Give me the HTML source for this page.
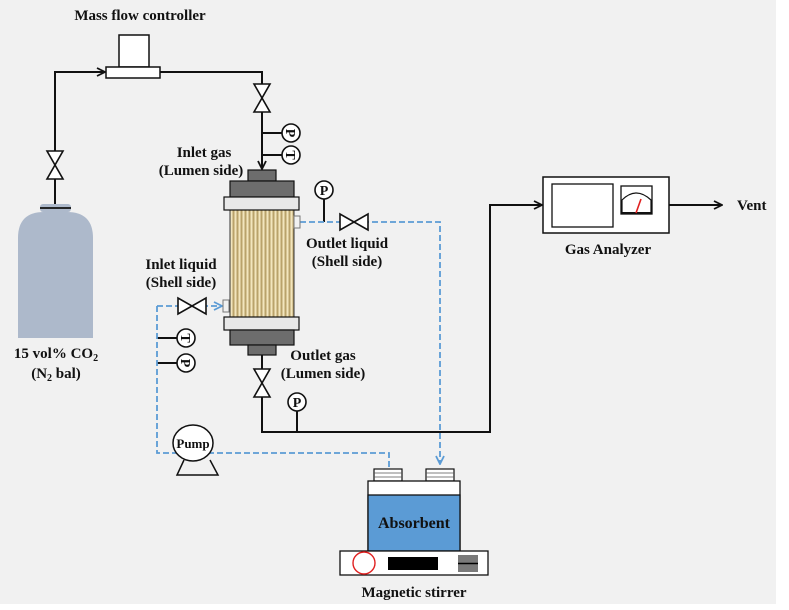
<!DOCTYPE html>
<html><head><meta charset="utf-8"><style>
html,body{margin:0;padding:0;background:#fff;}
svg{display:block;}
text{font-family:"Liberation Serif",serif;font-weight:bold;fill:#111;}
</style></head><body>
<svg width="789" height="610" viewBox="0 0 789 610" xmlns="http://www.w3.org/2000/svg">
<defs>
<pattern id="fib" x="231" y="0" width="4" height="10" patternUnits="userSpaceOnUse">
<rect width="4" height="10" fill="#f2e5bd"/>
<rect x="1.5" width="2" height="10" fill="#b9a26a"/>
</pattern>
<marker id="ar" viewBox="0 0 10 10" refX="9" refY="5" markerWidth="10" markerHeight="10" orient="auto" markerUnits="userSpaceOnUse"><path d="M1,1 L9,5 L1,9" fill="none" stroke="#111" stroke-width="1.8"/></marker>
<marker id="arb" viewBox="0 0 10 10" refX="9" refY="5" markerWidth="10" markerHeight="10" orient="auto" markerUnits="userSpaceOnUse"><path d="M1,1 L9,5 L1,9" fill="none" stroke="#5b9bd5" stroke-width="1.8"/></marker>
</defs>
<rect x="0" y="0" width="776" height="604" fill="#f1f1f1"/>

<g stroke="#111" stroke-width="2" fill="none">
<path d="M55,206 V72 H105" marker-end="url(#ar)"/>
<path d="M160,72 H262 V169" marker-end="url(#ar)"/>
<path d="M262,133 H282 M262,155 H282"/>
<path d="M262,355 V432 H490 V205 H542" marker-end="url(#ar)"/>
<path d="M297,411 V432"/>
<path d="M669,205 H722" marker-end="url(#ar)"/>
<path d="M324,199 V222"/>
<path d="M157,338 H177 M157,363 H177"/>
</g>

<g stroke="#5b9bd5" stroke-width="1.8" fill="none" stroke-dasharray="6,3">
<path d="M300,222 H440 V464" marker-end="url(#arb)"/>
<path d="M157,306 H222" marker-end="url(#arb)"/>
<path d="M157,306 V453 H389 V469"/>
</g>

<g fill="#fff" stroke="#111" stroke-width="1.6">
<path d="M47,151 H63 L47,179 H63 Z"/>
<path d="M254,84 H270 L254,112 H270 Z"/>
<path d="M254,369 H270 L254,397 H270 Z"/>
<path d="M340,214 V230 L368,214 V230 Z"/>
<path d="M178,298 V314 L206,298 V314 Z"/>
</g>

<g fill="#fff" stroke="#111" stroke-width="1.6">
<circle cx="291" cy="133" r="9"/><circle cx="291" cy="155" r="9"/>
<circle cx="324" cy="190" r="9"/>
<circle cx="186" cy="338" r="9"/><circle cx="186" cy="363" r="9"/>
<circle cx="297" cy="402" r="9"/>
</g>
<g font-size="14" text-anchor="middle">
<text transform="translate(291,133) rotate(90)" y="5">P</text>
<text transform="translate(291,155) rotate(90)" y="5">T</text>
<text x="324" y="195">P</text>
<text transform="translate(186,338) rotate(90)" y="5">T</text>
<text transform="translate(186,363) rotate(90)" y="5">P</text>
<text x="297" y="407">P</text>
</g>

<rect x="119" y="35" width="30" height="32" fill="#fff" stroke="#111" stroke-width="1.5"/>
<rect x="106" y="67" width="54" height="11" fill="#fff" stroke="#111" stroke-width="1.5"/>

<rect x="40" y="204" width="31" height="8" rx="3" fill="#adb9cb"/>
<path d="M18,338 V238 Q18,212 44,212 H67 Q93,212 93,238 V338 Z" fill="#adb9cb"/>
<path d="M40,208 H71" stroke="#111" stroke-width="1.8"/>

<rect x="248" y="170" width="28" height="11" fill="#6d6d6d" stroke="#111" stroke-width="1.2"/>
<rect x="230" y="181" width="64" height="16" fill="#6d6d6d" stroke="#111" stroke-width="1.2"/>
<rect x="230" y="210" width="64" height="107" fill="url(#fib)" stroke="#333" stroke-width="1"/>
<rect x="224" y="197" width="75" height="13" fill="#e8e8e8" stroke="#111" stroke-width="1.2"/>
<rect x="224" y="317" width="75" height="13" fill="#e8e8e8" stroke="#111" stroke-width="1.2"/>
<rect x="230" y="330" width="64" height="15" fill="#6d6d6d" stroke="#111" stroke-width="1.2"/>
<rect x="248" y="345" width="28" height="10" fill="#6d6d6d" stroke="#111" stroke-width="1.2"/>
<rect x="294" y="216" width="6" height="12" fill="#f1f1f1" stroke="#777" stroke-width="1"/>
<rect x="223" y="300" width="6" height="12" fill="#f1f1f1" stroke="#777" stroke-width="1"/>

<rect x="543" y="177" width="126" height="56" fill="#fff" stroke="#111" stroke-width="1.5"/>
<rect x="552" y="184" width="61" height="43" fill="#fff" stroke="#111" stroke-width="1.3"/>
<rect x="621" y="186" width="31" height="28" fill="#fff" stroke="#111" stroke-width="1.3"/>
<path d="M622,213 V200 Q636,186 651,200 V213 Z" fill="#fff" stroke="#111" stroke-width="1.2"/>
<path d="M622,213 H651" stroke="#111" stroke-width="2"/>
<path d="M636,213 L641,199" stroke="#e02020" stroke-width="1.6"/>

<ellipse cx="193" cy="443" rx="20" ry="18" fill="#fff" stroke="#111" stroke-width="1.5"/>
<path d="M184,460 L177,475 H218 L210,460" fill="none" stroke="#111" stroke-width="1.5"/>
<text x="193" y="448" font-size="13" text-anchor="middle">Pump</text>

<g fill="#fff" stroke="#111" stroke-width="1.2">
<rect x="374" y="469" width="28" height="12"/>
<rect x="426" y="469" width="28" height="12"/>
</g>
<path d="M374,473 H402 M374,477 H402 M426,473 H454 M426,477 H454" stroke="#555" stroke-width="0.8"/>
<rect x="368" y="481" width="92" height="70" fill="#fff" stroke="#111" stroke-width="1.3"/>
<rect x="368" y="495" width="92" height="56" fill="#5b9bd5" stroke="#111" stroke-width="1.3"/>
<text x="414" y="528" font-size="16" text-anchor="middle">Absorbent</text>
<rect x="340" y="551" width="148" height="24" fill="#fff" stroke="#111" stroke-width="1.3"/>
<circle cx="364" cy="563" r="11" fill="#fff" stroke="#e02020" stroke-width="1.4"/>
<rect x="388" y="557" width="50" height="13" fill="#000"/>
<rect x="458" y="555" width="20" height="17" fill="#7a7a7a"/>
<path d="M458,563.5 H478" stroke="#000" stroke-width="1.4"/>

<g font-size="15">
<text x="140" y="20" text-anchor="middle">Mass flow controller</text>
<text x="204" y="157" text-anchor="middle">Inlet gas</text>
<text x="201" y="175" text-anchor="middle">(Lumen side)</text>
<text x="347" y="248" text-anchor="middle">Outlet liquid</text>
<text x="347" y="266" text-anchor="middle">(Shell side)</text>
<text x="181" y="269" text-anchor="middle">Inlet liquid</text>
<text x="181" y="287" text-anchor="middle">(Shell side)</text>
<text x="323" y="360" text-anchor="middle">Outlet gas</text>
<text x="323" y="378" text-anchor="middle">(Lumen side)</text>
<text x="56" y="358" text-anchor="middle">15 vol% CO<tspan font-size="10" dy="3">2</tspan></text>
<text x="56" y="378" text-anchor="middle">(N<tspan font-size="10" dy="3">2</tspan><tspan dy="-3"> bal)</tspan></text>
<text x="608" y="254" text-anchor="middle">Gas Analyzer</text>
<text x="737" y="210">Vent</text>
<text x="414" y="597" text-anchor="middle">Magnetic stirrer</text>
</g>
</svg>
</body></html>
